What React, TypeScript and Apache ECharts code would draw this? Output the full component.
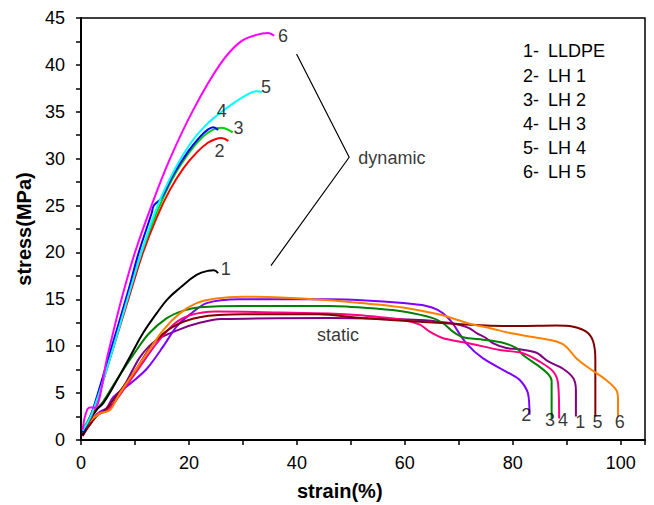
import React, { useEffect, useRef } from "react";
import * as echarts from "echarts";

const FONT = "Liberation Sans, Arial, Helvetica, sans-serif";

// ---- tick labels ----
const xTicks = [0, 20, 40, 60, 80, 100];
const yTicks = [0, 5, 10, 15, 20, 25, 30, 35, 40, 45];

// ---- dynamic curves [strain %, stress MPa] ----
const dynLLDPE = [[0.3, 0.5], [1.5, 2.0], [3, 3.3], [4.1, 3.9], [6, 5.7], [9.1, 8.9], [11.5, 11.4], [14, 13.5], [16, 15.0], [18.3, 16.2], [21.4, 17.6], [23.6, 18.05], [24.6, 18.1], [25.4, 17.8]];
const dynLH1 = [[0.3, 0.9], [2, 2.6], [5, 8.0], [9.3, 16.0], [11.5, 20.0], [14, 23.7], [16.5, 26.7], [19, 29.0], [21.5, 30.7], [23.5, 31.7], [25, 32.1], [26, 32.2], [27.3, 31.9]];
const dynLH2 = [[0.3, 1.2], [2, 2.9], [5, 8.0], [9, 16.0], [11.2, 20.0], [14, 24.2], [17, 27.9], [20, 30.6], [22.5, 32.3], [24.5, 33.1], [26, 33.3], [28.1, 32.8]];
const dynLH3 = [[0.3, 0.8], [1.5, 2.2], [2.3, 3.4], [5, 8.6], [8.8, 16.0], [10.6, 19.8], [13.1, 24.2], [13.5, 25.0], [14.9, 25.8], [17.2, 28.4], [19.9, 30.8], [22, 32.3], [23.5, 33.1], [24.5, 33.35], [25.4, 33.06]];
const dynLH4 = [[0.3, 1.0], [2, 2.8], [5, 8.0], [9.1, 16.0], [11.2, 20.0], [14.2, 25.0], [17.5, 29.0], [20.5, 31.8], [23, 33.5], [25.4, 34.7], [28.2, 35.9], [30.7, 36.8], [32.5, 37.2], [33.6, 37.1]];
const dynLH5 = [[0.3, 1.1], [1.2, 3.3], [2.2, 3.5], [2.5, 3.4], [5, 9.2], [7.5, 15.0], [10, 20.0], [13, 24.9], [16.5, 30.0], [20.8, 35.2], [25.7, 40.0], [29.4, 42.4], [32.5, 43.2], [34.7, 43.4], [35.8, 43.1]];

// ---- static curves ----
const stLLDPE = [[0.3, 0.5], [1.5, 1.6], [3, 2.7], [4.5, 3.2], [6, 3.9], [8.5, 6.3], [11, 8.9], [14, 10.66], [18.3, 11.8], [22, 12.5], [26, 12.9], [46, 13.0], [62.8, 12.8], [68, 12.5], [70.2, 12.26], [72, 11.9], [73.3, 11.4], [75.1, 10.85], [76.4, 10.3], [78.8, 9.8], [81.3, 9.67], [84.4, 9.3], [86.5, 8.4], [89.3, 7.6], [91.2, 6.6], [91.7, 5.3], [91.7, 2.5]];
const stLH1 = [[0.3, 0.6], [2, 2.0], [3.5, 3.0], [4.75, 3.4], [6, 4.6], [9.1, 6.0], [12.2, 7.6], [15.2, 9.95], [17.7, 12.1], [20.2, 13.4], [23.3, 14.6], [29.4, 15.0], [46, 15.0], [52, 14.9], [59.7, 14.6], [64, 14.3], [66, 13.9], [67.7, 13.2], [68.9, 12.4], [71.4, 10.3], [74.5, 8.7], [79.4, 7.1], [81.3, 6.4], [82.8, 5.0], [83.1, 2.7]];
const stLH2 = [[0.3, 0.8], [1.5, 2.2], [2.9, 3.3], [4.1, 4.1], [6.6, 6.4], [9.7, 9.1], [12.5, 11.3], [15.9, 13.0], [19, 13.8], [22, 14.15], [30, 14.3], [46, 14.3], [55, 14.0], [59.7, 13.7], [65.2, 13.0], [67.1, 12.45], [68.9, 11.55], [70.8, 10.95], [74.5, 10.7], [78, 10.4], [80.7, 9.8], [81.9, 9.06], [85, 7.8], [86.6, 7.0], [87.2, 6.3], [87.2, 2.3]];
const stLH3 = [[0.3, 0.4], [1.5, 1.6], [3, 2.8], [4.5, 3.0], [5.4, 3.4], [7.8, 5.3], [10.9, 7.8], [14, 10.3], [17.1, 12.3], [20.2, 13.3], [25, 13.7], [36.9, 13.6], [46, 13.5], [51.7, 13.3], [59.7, 12.8], [62.8, 12.3], [64.6, 11.55], [67.1, 10.85], [72, 10.3], [77.6, 9.6], [81.9, 9.25], [85, 8.35], [87.5, 7.3], [88.4, 6.0], [88.6, 2.3]];
const stLH4 = [[0.3, 0.5], [1.5, 1.5], [3, 2.6], [4.5, 3.2], [6, 4.3], [9.7, 7.1], [13.4, 10.3], [17.1, 12.1], [22, 13.1], [30, 13.4], [44, 13.4], [52, 13.0], [62.8, 12.6], [75, 12.2], [81.3, 12.15], [88, 12.2], [91, 12.1], [93.6, 11.55], [94.9, 10.5], [95.3, 8.5], [95.3, 2.5]];
const stLH5 = [[0.3, 0.7], [1.5, 1.9], [3.5, 2.85], [5.4, 3.2], [7.2, 5.0], [9.7, 7.1], [12.2, 9.25], [15.2, 11.7], [18.3, 13.5], [21.4, 14.6], [25, 15.1], [30, 15.28], [37, 15.2], [46, 14.9], [52, 14.6], [56, 14.4], [61, 14.0], [67, 13.3], [72, 12.4], [76, 11.9], [79.5, 11.4], [84, 10.95], [88.1, 10.5], [89.9, 9.95], [91.8, 8.7], [94.3, 7.6], [97.3, 6.4], [99.2, 5.3], [99.5, 4.3], [99.5, 2.5]];

const dynSeries = [dynLLDPE, dynLH1, dynLH2, dynLH3, dynLH4, dynLH5];
const dynColors = ["#000000", "#ff0000", "#00d000", "#0000ff", "#00ffff", "#ff00ff"];
const stSeries = [stLLDPE, stLH1, stLH2, stLH3, stLH4, stLH5];
const stColors = ["#800080", "#8000ff", "#008000", "#ff0080", "#800000", "#ff8000"];

// ---- annotations ----
const curveNumbers = ["1", "2", "3", "4", "5", "6"];
const dynLabelPos = [[26.8, 18.2], [25.65, 30.8], [29.2, 33.3], [26.1, 35.1], [34.3, 37.6], [37.44, 43.1]];
const stLabelPos = [[92.5, 1.95], [82.5, 2.67], [86.9, 2.13], [89.3, 2.13], [95.7, 1.95], [99.8, 1.95]];
const bracket = [[39.94, 41.16], [49.69, 30.15], [35.19, 18.59]];
const groupTexts = ["dynamic", "static"];
const groupTextPos = [[57.6, 30.1], [47.6, 11.2]];
const legendNums = ["1-", "2-", "3-", "4-", "5-", "6-"];
const legendNames = ["LLDPE", "LH 1", "LH 2", "LH 3", "LH 4", "LH 5"];

export default function App() {
  const ref = useRef<HTMLDivElement>(null);
  useEffect(() => {
    if (!ref.current) return;
    const chart = echarts.init(ref.current, undefined, { renderer: "svg" });

    const lineSeries: any[] = [];
    stSeries.forEach((d, i) =>
      lineSeries.push({
        type: "line",
        data: d,
        showSymbol: false,
        smooth: 0.3,
        lineStyle: { color: stColors[i], width: 2 },
        z: 2,
      })
    );
    dynSeries.forEach((d, i) =>
      lineSeries.push({
        type: "line",
        data: d,
        showSymbol: false,
        smooth: 0.4,
        lineStyle: { color: dynColors[i], width: 2 },
        z: 3,
      })
    );
    lineSeries.push({
      type: "line",
      data: bracket,
      showSymbol: false,
      lineStyle: { color: "#000", width: 1.2 },
      z: 3,
    });
    const textStyle = { color: "#000", fontSize: 18, fontFamily: FONT };
    const labelData = [
      ...dynLabelPos.map((p, i) => ({ value: p, label: { formatter: curveNumbers[i] } })),
      ...stLabelPos.map((p, i) => ({ value: p, label: { formatter: curveNumbers[i] } })),
      ...groupTextPos.map((p, i) => ({ value: p, label: { formatter: groupTexts[i] } })),
    ];
    lineSeries.push({
      type: "scatter",
      data: labelData,
      symbolSize: 0,
      silent: true,
      label: { show: true, position: "inside", ...textStyle },
      z: 5,
    });

    const legendGraphics: any[] = [];
    legendNums.forEach((n, i) => {
      const y = 52.3 + i * 24.2;
      legendGraphics.push({
        type: "text",
        left: 523,
        top: y - 10,
        style: { text: n, font: `18px ${FONT}`, fill: "#000" },
      });
      legendGraphics.push({
        type: "text",
        left: 548,
        top: y - 10,
        style: { text: legendNames[i], font: `18px ${FONT}`, fill: "#000" },
      });
    });
    legendGraphics.push({
      type: "text",
      left: 297,
      top: 481,
      style: { text: "strain(%)", font: `bold 20px ${FONT}`, fill: "#000" },
    });

    chart.setOption({
      animation: false,
      backgroundColor: "#fff",
      grid: { left: 81, top: 18, right: 9, bottom: 65, show: true, borderColor: "#000", borderWidth: 1.5 },
      xAxis: {
        type: "value",
        min: 0,
        max: 104.5,
        interval: 20,
        axisLine: { show: true, onZero: false, lineStyle: { color: "#000", width: 2 } },
        axisTick: { show: true, inside: false, length: 5, lineStyle: { color: "#000", width: 1.5 } },
        minorTick: { show: true, splitNumber: 2, length: 5, lineStyle: { color: "#000", width: 1.5 } },
        splitLine: { show: false },
        axisLabel: {
          color: "#000",
          fontSize: 18,
          fontFamily: FONT,
          margin: 14,
          showMaxLabel: false,
          formatter: (v: number) => (xTicks.includes(v) ? String(v) : ""),
        },
      },
      yAxis: {
        type: "value",
        min: 0,
        max: 45,
        interval: 5,
        name: "stress(MPa)",
        nameLocation: "middle",
        nameGap: 47,
        nameTextStyle: { color: "#000", fontSize: 20, fontWeight: "bold", fontFamily: FONT },
        axisLine: { show: true, onZero: false, lineStyle: { color: "#000", width: 2 } },
        axisTick: { show: true, inside: false, length: 5, lineStyle: { color: "#000", width: 1.5 } },
        minorTick: { show: true, splitNumber: 2, length: 5, lineStyle: { color: "#000", width: 1.5 } },
        splitLine: { show: false },
        axisLabel: {
          color: "#000",
          fontSize: 18,
          fontFamily: FONT,
          margin: 16,
          formatter: (v: number) => (yTicks.includes(v) ? String(v) : ""),
        },
      },
      series: lineSeries,
      graphic: legendGraphics,
    });
    return () => chart.dispose();
  }, []);
  return (
    <div
      ref={ref}
      style={{ position: "fixed", left: 0, top: 0, width: 654, height: 505 }}
    />
  );
}
